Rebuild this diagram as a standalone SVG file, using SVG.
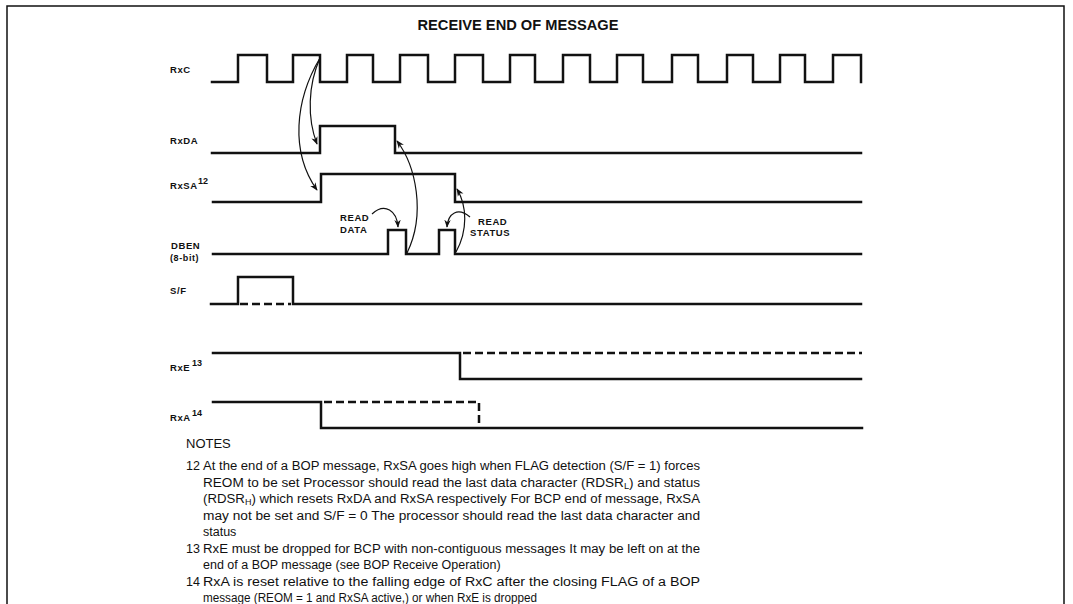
<svg xmlns="http://www.w3.org/2000/svg" width="1073" height="604" viewBox="0 0 1073 604">
<defs>
<marker id="ah" viewBox="0 0 10 10" refX="9" refY="5" markerWidth="8" markerHeight="8" markerUnits="userSpaceOnUse" orient="auto">
<path d="M0,1 L10,5 L0,9 L3,5 Z" fill="#111"/>
</marker>
</defs>
<style>
.sig{fill:none;stroke:#111;stroke-width:2.5;stroke-linejoin:miter;stroke-linecap:square}
.dash{fill:none;stroke:#111;stroke-width:2.5;stroke-dasharray:8 4}
.arr{fill:none;stroke:#111;stroke-width:1.2;marker-end:url(#ah)}
.lbl{font-family:"Liberation Sans",Arial,sans-serif;font-weight:bold;font-size:9.5px;fill:#111;letter-spacing:0.6px}
.sup{font-family:"Liberation Sans",Arial,sans-serif;font-weight:bold;font-size:9px;fill:#111}
.note{font-family:"Liberation Sans",Arial,sans-serif;font-size:12.5px;fill:#111}
.title{font-family:"Liberation Sans",Arial,sans-serif;font-weight:bold;font-size:15px;fill:#111}
</style>
<rect x="0" y="0" width="1073" height="604" fill="#fff"/>
<path d="M7,604 V6 H1064 V604" fill="none" stroke="#111" stroke-width="1.5"/>
<text class="title" x="518" y="30" text-anchor="middle" textLength="201" lengthAdjust="spacingAndGlyphs">RECEIVE END OF MESSAGE</text>

<g id="RxC">
<text class="lbl" x="170" y="73">RxC</text>
<path class="sig" d="M212,82 H238 V55 H267 V82 H293 V55 H320 V82 H347 V55 H373 V82 H400 V55 H428 V82 H455 V55 H483 V82 H510 V55 H535 V82 H563 V55 H590 V82 H617 V55 H643 V82 H672 V55 H698 V82 H727 V55 H753 V82 H780 V55 H805 V82 H833 V55 H861 V82"/>
</g>
<g id="RxDA">
<text class="lbl" x="170" y="144">RxDA</text>
<path class="sig" d="M212,153 H320 V126 H395 V153 H861"/>
</g>
<g id="RxSA">
<text class="lbl" x="170" y="189">RxSA</text>
<text class="sup" x="198" y="184">12</text>
<path class="sig" d="M213,202 H321 V174 H455 V202 H861"/>
</g>
<g id="DBEN">
<text class="lbl" x="171" y="249">DBEN</text>
<text class="lbl" x="170" y="261" style="font-size:9px">(8-bit)</text>
<path class="sig" d="M213,254 H388 V230 H406 V254 H439 V230 H455 V254 H861"/>
<text class="lbl" x="340" y="221">READ</text>
<text class="lbl" x="340" y="233">DATA</text>
<text class="lbl" x="478" y="225">READ</text>
<text class="lbl" x="470" y="236">STATUS</text>
</g>
<g id="SF">
<text class="lbl" x="170" y="294">S/F</text>
<path class="sig" d="M211,304 H238 V277 H293 V304 H861"/>
<path d="M240,304 H291" fill="none" stroke="#fff" stroke-width="2.7"/>
<path class="dash" d="M240,304 H291"/>
</g>
<g id="RxE">
<text class="lbl" x="170" y="371">RxE</text>
<text class="sup" x="192" y="366">13</text>
<path class="sig" d="M213,353 H460 V379 H861"/>
<path class="dash" d="M463,353 H862"/>
</g>
<g id="RxA">
<text class="lbl" x="170" y="421">RxA</text>
<text class="sup" x="192" y="416">14</text>
<path class="sig" d="M213,402 H321 V428 H862"/>
<path class="dash" d="M324,402 H479 V428"/>
</g>

<g id="connectors">
<path class="arr" d="M320,58 C308,85 307,118 317,144"/>
<path class="arr" d="M320,58 C295,100 290,152 317,190"/>
<path class="arr" d="M407,253 C426,214 416,166 397,141"/>
<path class="arr" d="M456,252 C468,230 467,206 457,189"/>
<path class="arr" d="M372,214 C385,202 397,211 398,227"/>
<path class="arr" d="M470,217 C458,207 448,213 447,227"/>
</g>

<g id="notes">
<text class="note" x="186" y="448" style="font-size:13px">NOTES</text>
<text class="note" x="186" y="470">12</text>
<text class="note" x="203" y="470" textLength="497" lengthAdjust="spacingAndGlyphs">At the end of a BOP message, RxSA goes high when FLAG detection (S/F = 1) forces</text>
<text class="note" x="203" y="486.5" textLength="497" lengthAdjust="spacingAndGlyphs">REOM to be set  Processor should read the last data character (RDSR<tspan font-size="8.5" dy="2">L</tspan><tspan dy="-2">) and status</tspan></text>
<text class="note" x="203" y="503" textLength="497" lengthAdjust="spacingAndGlyphs">(RDSR<tspan font-size="8.5" dy="2">H</tspan><tspan dy="-2">) which resets RxDA and RxSA respectively  For BCP end of message, RxSA</tspan></text>
<text class="note" x="203" y="519.5" textLength="497" lengthAdjust="spacingAndGlyphs">may not be set and S/F = 0  The processor should read the last data character and</text>
<text class="note" x="203" y="536">status</text>
<text class="note" x="186" y="552.5">13</text>
<text class="note" x="203" y="552.5" textLength="497" lengthAdjust="spacingAndGlyphs">RxE must be dropped for BCP with non-contiguous messages  It may be left on at the</text>
<text class="note" x="203" y="569">end of a BOP message (see BOP Receive Operation)</text>
<text class="note" x="186" y="585.5">14</text>
<text class="note" x="203" y="585.5" textLength="497" lengthAdjust="spacingAndGlyphs">RxA is reset relative to the falling edge of RxC after the closing FLAG of a BOP</text>
<text class="note" x="203" y="602" textLength="334" lengthAdjust="spacingAndGlyphs">message (REOM = 1 and RxSA active,)  or when RxE is dropped</text>
</g>
</svg>
